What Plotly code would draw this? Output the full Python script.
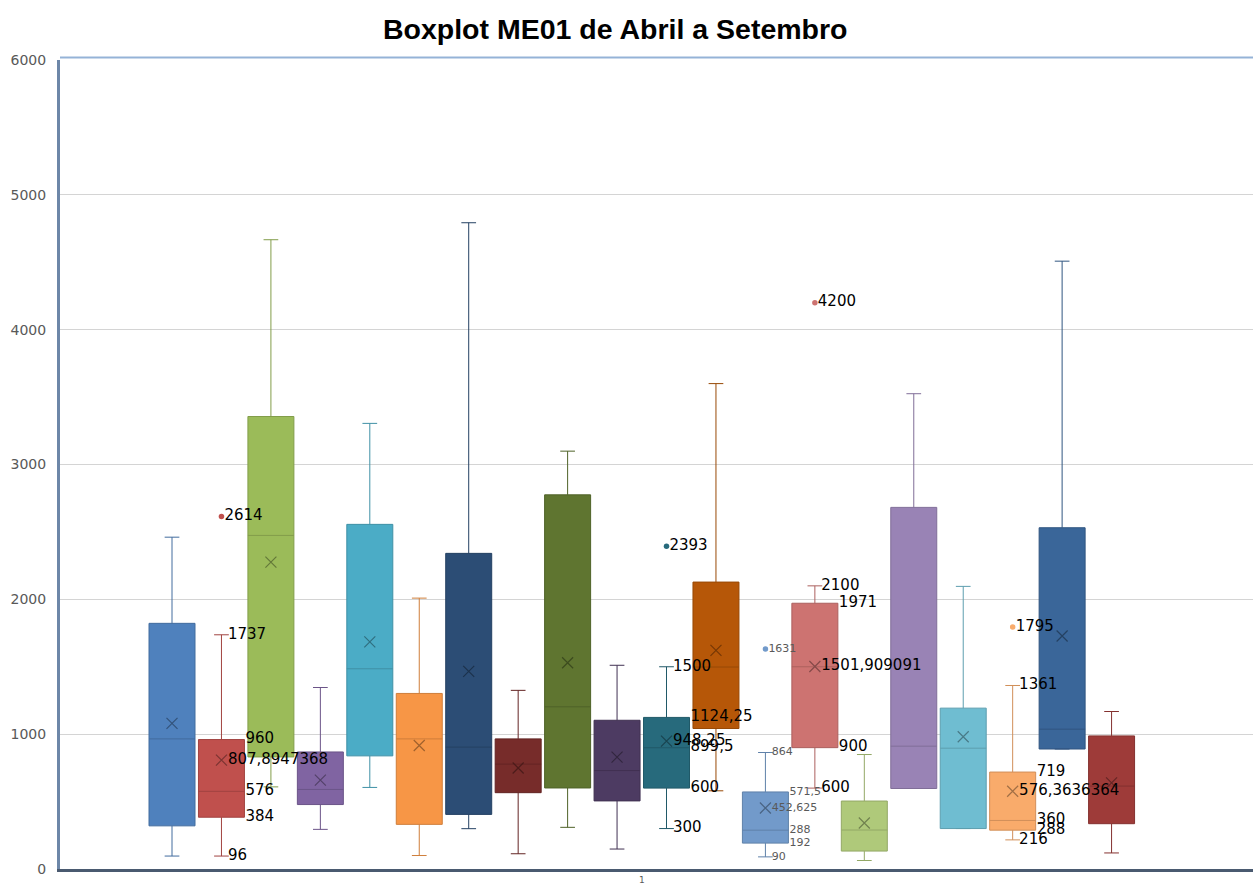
import plotly.graph_objects as go

# ---------------- data ----------------
positions = list(range(1, 21))
colors = ["#4F81BD", "#C0504D", "#9BBB59", "#8064A2", "#4BACC6", "#F79646",
          "#2C4D75", "#772C2A", "#5F7530", "#4D3B62", "#276A7C", "#B65708",
          "#729ACA", "#CD7371", "#AFC97A", "#9983B5", "#6FBDD1", "#F9AB6B",
          "#3A6699", "#9E3B39"]
q1 = [320, 384, 831, 478, 839, 331, 405, 566, 601, 505,
      600, 1042, 192, 900, 133, 597, 300, 288, 890, 336]
median = [965, 576, 2474, 590, 1485, 965, 904, 778, 1203, 730,
          899.5, 1498, 288, 1500, 289, 911, 896, 360, 1037, 615]
q3 = [1822, 960, 3356, 868, 2556, 1302, 2341, 965, 2775, 1103,
      1124.25, 2128, 571.5, 1971, 504, 2682, 1193, 719, 2531, 987]
lower = [96, 96, 609, 294, 605, 100, 299, 113, 309, 148,
         300, 580, 90, 600, 63, 597, 300, 216, 890, 119]
upper = [2461, 1737, 4667, 1346, 3305, 2009, 4793, 1325, 3099, 1511,
         1500, 3600, 864, 2100, 849, 3525, 2096, 1361, 4508, 1168]
mean = [1080, 807.8947368, 2276, 659, 1685, 916, 1466, 749, 1530, 830,
        948.25, 1622, 452.625, 1501.909091, 341, None, 981, 576.3636364, 1728, 639]
outlier_box = [2, 11, 13, 14, 18]
outlier_val = [2614, 2393, 1631, 4200, 1795]

# data labels: (box number, value, kind) kind: w=whisker/mean, b=box edge, o=outlier
labels_big = [
    (2, 1737, "w"), (2, 960, "b"), (2, 807.8947368, "w"), (2, 576, "b"), (2, 384, "b"), (2, 96, "w"), (2, 2614, "o"),
    (11, 1500, "w"), (11, 1124.25, "b"), (11, 948.25, "w"), (11, 899.5, "b"), (11, 600, "b"), (11, 300, "w"), (11, 2393, "o"),
    (14, 2100, "w"), (14, 1971, "b"), (14, 1501.909091, "w"), (14, 900, "b"), (14, 600, "w"), (14, 4200, "o"),
    (18, 1361, "w"), (18, 719, "b"), (18, 576.3636364, "w"), (18, 360, "b"), (18, 288, "b"), (18, 216, "w"), (18, 1795, "o"),
]
labels_small = [
    (13, 864, "w"), (13, 571.5, "b"), (13, 452.625, "w"), (13, 288, "b"), (13, 192, "b"), (13, 90, "w"), (13, 1631, "o"),
]

category_labels = ["1"]
title = "Boxplot ME01 de Abril a Setembro"


def darker(hexc, f=0.78):
    h = hexc.lstrip("#")
    r, g, b = (int(h[i:i + 2], 16) for i in (0, 2, 4))
    return "#%02X%02X%02X" % (int(r * f), int(g * f), int(b * f))


def fmt(v):
    return ("%.10g" % v).replace(".", ",")


BOX_W = 0.93
OFFS = {"w": 0.13, "b": BOX_W / 2 + 0.02, "o": 0.06}

fig = go.Figure()
for i in range(len(positions)):
    fig.add_trace(go.Box(
        x=[positions[i]], q1=[q1[i]], median=[median[i]], q3=[q3[i]],
        lowerfence=[lower[i]], upperfence=[upper[i]],
        orientation="v", width=BOX_W, whiskerwidth=0.32,
        fillcolor=colors[i], line=dict(color=darker(colors[i], 0.84), width=1),
        boxpoints=False, hoverinfo="skip", showlegend=False,
    ))

# mean markers
mx = [positions[i] for i in range(len(positions)) if mean[i] is not None]
my = [mean[i] for i in range(len(positions)) if mean[i] is not None]
mc = [darker(colors[i], 0.65) for i in range(len(positions)) if mean[i] is not None]
fig.add_trace(go.Scatter(
    x=mx, y=my, mode="markers", showlegend=False, hoverinfo="skip",
    marker=dict(symbol="x-thin", size=11, line=dict(color=mc, width=1.2)),
))

# outliers
fig.add_trace(go.Scatter(
    x=[positions[b - 1] for b in outlier_box], y=outlier_val, mode="markers",
    showlegend=False, hoverinfo="skip",
    marker=dict(size=5.5, color=[colors[b - 1] for b in outlier_box]),
))


def label_trace(items, size, color):
    return go.Scatter(
        x=[positions[b - 1] + OFFS[k] for b, v, k in items],
        y=[v for b, v, k in items],
        text=[fmt(v) for b, v, k in items],
        mode="text", textposition="middle right",
        textfont=dict(family="DejaVu Sans", size=size, color=color),
        showlegend=False, hoverinfo="skip",
    )


fig.add_trace(label_trace(labels_big, 15, "#000000"))
fig.add_trace(label_trace(labels_small, 11, "#595959"))

fig.update_layout(
    width=1253, height=892,
    margin=dict(l=60, r=0, t=60, b=23),
    paper_bgcolor="white", plot_bgcolor="white",
    boxmode="overlay",
    title=dict(text="<b>" + title + "</b>", x=0.491, xanchor="center", y=0.968, yanchor="middle",
               font=dict(family="Liberation Sans", size=28.5, color="#000000")),
    xaxis=dict(range=[-1.265, 22.86], tickvals=[10.5], ticktext=category_labels,
               showgrid=False, zeroline=False, showline=True, linecolor="#4A5A70", linewidth=3,
               tickfont=dict(family="DejaVu Sans", size=9, color="#595959"), ticks=""),
    yaxis=dict(range=[0, 6000], dtick=1000, showgrid=True, gridcolor="#D4D4D4", gridwidth=1,
               zeroline=False, showline=True, linecolor="#6D87A8", linewidth=3, ticks="",
               ticklabelstandoff=8,
               tickfont=dict(family="DejaVu Sans", size=14, color="#595959")),
    shapes=[dict(type="line", xref="paper", yref="paper", x0=0, x1=1, y0=1.003, y1=1.003,
                 line=dict(color="#95B3D7", width=2))],
)

fig.write_html("out.html")
